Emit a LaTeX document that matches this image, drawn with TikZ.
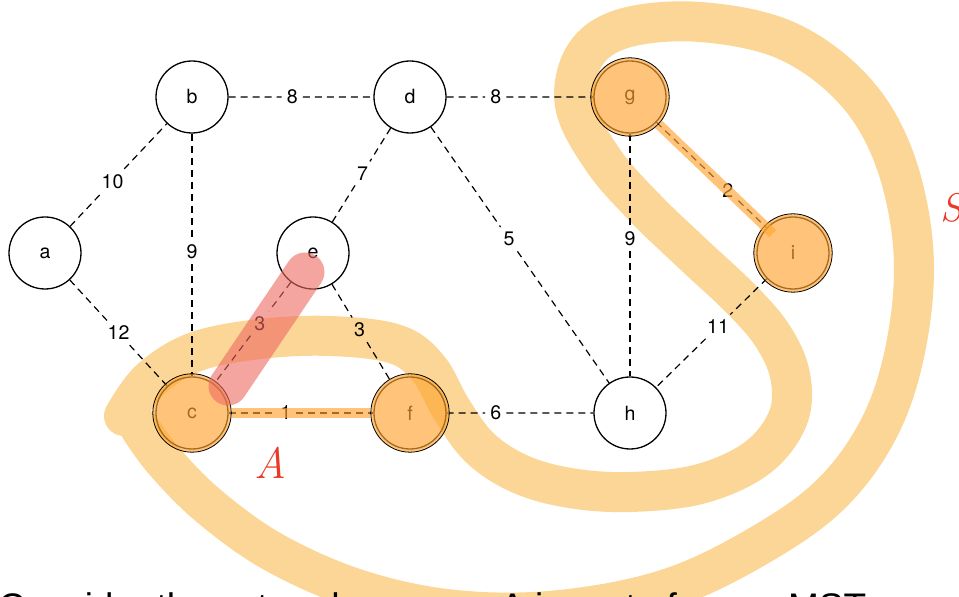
\documentclass[tikz,border=0pt]{standalone}
\usepackage{fontspec}
\newfontfamily\labfont{TeX Gyre Heros}
\newfontfamily\bottomfont{Liberation Sans}
\usetikzlibrary{calc}
\definecolor{bandcol}{RGB}{251,214,150}
\definecolor{hlcol}{RGB}{255,165,50}
\definecolor{pinkcol}{RGB}{238,105,97}
\definecolor{redink}{RGB}{232,58,40}
\begin{document}
\begin{tikzpicture}[x=0.5pt,y=-0.5pt,
  vtx/.style={circle, draw=black, fill=white, line width=0.65pt, minimum size=36pt, inner sep=0pt, font=\labfont\fontsize{9.8}{10}\selectfont},
  vtxh/.style={circle, draw=black, line width=0.65pt, minimum size=36pt, inner sep=0pt, font=\labfont\fontsize{9.8}{10}\selectfont},
  wlab/.style={inner sep=2.4pt, font=\labfont\fontsize{9.8}{10}\selectfont},
  edgeline/.style={dash pattern=on 3.5pt off 2.5pt, line width=0.6pt},
  hlstrip/.style={hlcol, opacity=0.65, line width=5pt},
  overlay/.style={fill=hlcol, fill opacity=0.65, draw=black, line width=0.4pt}
]
\useasboundingbox (0,0) rectangle (959,597);

% the cut band S
\draw[bandcol, line width=20pt, line cap=round, line join=round]
  plot[smooth, tension=0.6] coordinates {
  (124,416) (150,380) (195,352) (260,339) (330,336) (395,344) (428,368)
  (452,410) (480,448) (520,474) (570,488) (630,492) (700,484) (757,458)
  (788,418) (790,375) (772,335) (740,298) (693,254) (645,208) (603,160)
  (575,105) (585,55) (625,28) (700,22) (785,40) (852,88) (893,155)
  (913,245) (908,335) (883,420) (835,490) (765,542) (670,588) (560,610)
  (455,610) (360,590) (275,553) (210,507) (165,462) (140,428)};

% vertices
\node[vtx]  (a) at (45,253) {a};
\node[vtx]  (b) at (192,97) {b};
\node[vtx]  (d) at (410,97) {d};
\node[vtxh] (g) at (630,97) {g};
\node[vtx]  (e) at (313,253) {e};
\node[vtxh] (i) at (793,253) {i};
\node[vtxh] (c) at (192,413) {c};
\node[vtxh] (f) at (410,413) {f};
\node[vtx]  (h) at (630,413) {h};

% edge labels
\node[wlab] (lab) at ($(a)!0.46!(b)$) {10};
\node[wlab] (lac) at ($(a)!0.50!(c)$) {12};
\node[wlab] (lbc) at ($(b)!0.49!(c)$) {9};
\node[wlab] (lbd) at ($(b)!0.46!(d)$) {8};
\node[wlab] (lde) at ($(d)!0.49!(e)$) {7};
\node[wlab] (ldg) at ($(d)!0.39!(g)$) {8};
\node[wlab] (ldh) at ($(d)!0.45!(h)$) {5};
\node[wlab] (lec) at ($(e)!0.44!(c)$) {3};
\node[wlab] (lef) at ($(e)!0.48!(f)$) {3};
\node[wlab] (lcf) at ($(c)!0.43!(f)$) {1};
\node[wlab] (lfh) at ($(f)!0.39!(h)$) {6};
\node[wlab] (lgh) at ($(g)!0.45!(h)$) {9};
\node[wlab] (lgi) at ($(g)!0.60!(i)$) {2};
\node[wlab] (lih) at ($(i)!0.46!(h)$) {11};

% dashed edges, broken at their labels
\foreach \u/\l/\v in {a/lab/b, a/lac/c, b/lbc/c, b/lbd/d, d/lde/e, d/ldg/g,
  d/ldh/h, e/lec/c, e/lef/f, c/lcf/f, f/lfh/h, g/lgh/h, g/lgi/i, i/lih/h}{
  \draw[edgeline] (\u) -- (\l);
  \draw[edgeline] (\l) -- (\v);
}

% highlighted vertices
\foreach \n in {c,f,g,i}{
  \path[overlay] (\n.center) circle (19.6pt);
}

% highlighted edges
\draw[hlstrip, shorten <=1.6pt, shorten >=1.6pt] (c) -- (f);
\draw[hlstrip, shorten <=1.6pt] (g) -- ($(i.center)!14pt!(g.center)$);

% pink highlight of edge c-e
\draw[pinkcol, opacity=0.6, line width=19.5pt, line cap=round] (305,272) -- (228,386);

% handwritten labels
\node[redink, font=\itshape\fontsize{22}{22}\selectfont, anchor=base, inner sep=0pt] (Alab) at (270,479) {A};
\node[redink, font=\itshape\fontsize{20}{20}\selectfont, anchor=base west, inner sep=0pt] (Slab) at (940,222) {S};

% bottom text (cut off by the page edge)
\node[anchor=base west, inner sep=0pt, font=\bottomfont\fontsize{18.5}{20}\selectfont] (txt) at (-2,620) {Consider the cut and suppose A is part of some MST};
\end{tikzpicture}
\end{document}
